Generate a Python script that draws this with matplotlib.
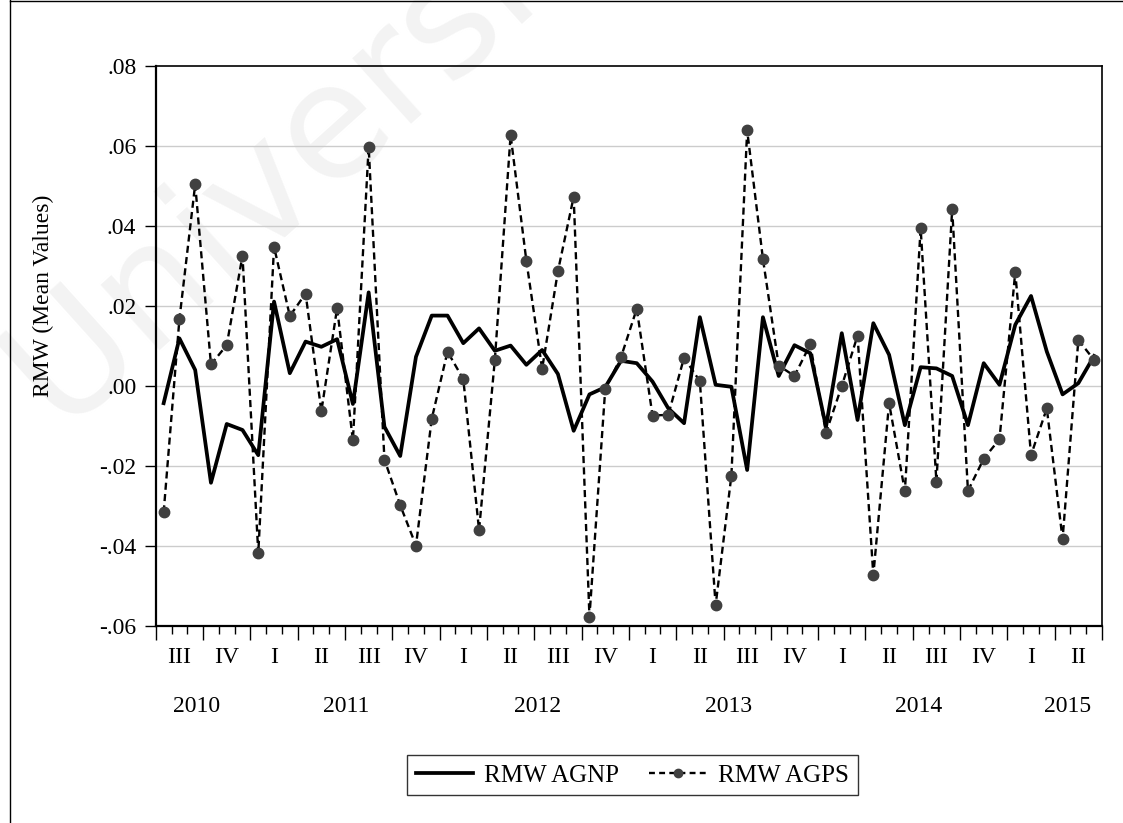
import numpy as np
import matplotlib.pyplot as plt
from matplotlib.lines import Line2D
from matplotlib import transforms

plt.rcParams['font.family'] = ['Liberation Serif', 'DejaVu Serif']

# monthly mean values, Jul 2010 - Jun 2015
agnp = [-0.0043, 0.0119, 0.0040, -0.0242, -0.0095, -0.0110, -0.0173, 0.0211, 0.0032, 0.0111,
        0.0098, 0.0117, -0.0045, 0.0234, -0.0102, -0.0175, 0.0073, 0.0176, 0.0176, 0.0107,
        0.0144, 0.0088, 0.0101, 0.0053, 0.0090, 0.0030, -0.0112, -0.0021, -0.0003, 0.0063,
        0.0057, 0.0011, -0.0056, -0.0093, 0.0172, 0.0003, -0.0002, -0.0210, 0.0172, 0.0025,
        0.0102, 0.0082, -0.0102, 0.0132, -0.0085, 0.0157, 0.0078, -0.0098, 0.0047, 0.0044,
        0.0025, -0.0098, 0.0057, 0.0003, 0.0153, 0.0225, 0.0086, -0.0021, 0.0007, 0.0075]
agps = [-0.0316, 0.0167, 0.0504, 0.0054, 0.0102, 0.0326, -0.0418, 0.0348, 0.0175, 0.0231,
        -0.0063, 0.0195, -0.0136, 0.0598, -0.0184, -0.0298, -0.0399, -0.0082, 0.0086, 0.0017,
        -0.0360, 0.0065, 0.0627, 0.0313, 0.0043, 0.0287, 0.0473, -0.0577, -0.0008, 0.0072,
        0.0193, -0.0074, -0.0072, 0.0071, 0.0012, -0.0548, -0.0224, 0.0639, 0.0318, 0.0051,
        0.0025, 0.0104, -0.0117, 0.0000, 0.0126, -0.0473, -0.0043, -0.0263, 0.0394, -0.0239,
        0.0442, -0.0262, -0.0182, -0.0133, 0.0285, -0.0173, -0.0056, -0.0383, 0.0115, 0.0065]
quarters = ['III', 'IV', 'I', 'II'] * 5
years = ['2010', '2011', '2012', '2013', '2014', '2015']
year_pos = [2.1, 11.6, 23.7, 35.8, 47.9, 57.3]

fs = 17
fig = plt.figure(figsize=(11.23, 8.23), dpi=100)
ax = fig.add_axes([0.1387, 0.2394, 0.9813 - 0.1387, 0.9198 - 0.2394])

# faint watermark, kept behind everything
fig.text(-0.02, 0.45, 'University', rotation=42, fontsize=115, color='#f3f3f3',
         family='DejaVu Sans', ha='left', va='bottom', zorder=-5)

x = np.arange(len(agnp))
ax.plot(x, agnp, color='black', lw=2.7, zorder=3)
ax.plot(x, agps, color='black', lw=1.7, ls=(0, (3, 1.8)), marker='o', markersize=7.5,
        markerfacecolor='#404040', markeredgecolor='#404040', zorder=4)

ax.set_xlim(-0.5, len(agnp) - 0.5)
ax.set_ylim(-0.06, 0.08)
ax.patch.set_alpha(0)

yt = np.arange(-0.06, 0.0801, 0.02)
ax.set_yticks(yt)
ax.set_yticklabels([('%.2f' % v).replace('0.', '.') for v in yt], fontsize=fs)
for v in yt[1:-1]:
    ax.axhline(v, color='#cccccc', lw=1.0, zorder=1)

ax.set_xticks(np.arange(-0.5, len(agnp), 3))
ax.set_xticks(np.arange(-0.5, len(agnp), 1), minor=True)
ax.set_xticklabels([])
ax.tick_params(axis='x', which='major', direction='out', length=10, width=1)
ax.tick_params(axis='x', which='minor', direction='out', length=5.5, width=1)
ax.tick_params(axis='y', direction='out', length=8, width=1, pad=6)

trans = transforms.blended_transform_factory(ax.transData, ax.transAxes)
for i, q in enumerate(quarters):
    ax.text(3 * i + 1, -0.057, q, transform=trans, ha='center', va='center', fontsize=fs)
for xp, yl in zip(year_pos, years):
    ax.text(xp, -0.143, yl, transform=trans, ha='center', va='center', fontsize=fs)

for s in ['left', 'bottom']:
    ax.spines[s].set_linewidth(1.6)
for s in ['top', 'right']:
    ax.spines[s].set_linewidth(1.2)

fig.text(43 / 1123, 1 - 296 / 823, 'RMW (Mean Values)', rotation=90, ha='center',
         va='center', fontsize=fs)

handles = [Line2D([], [], color='black', lw=2.7),
           Line2D([], [], color='black', lw=1.7, ls=(0, (2.5, 1.8)), marker='o', markersize=6,
                  markerfacecolor='#404040', markeredgecolor='#404040')]
leg = fig.legend(handles, ['RMW AGNP', 'RMW AGPS'], loc='center', ncol=2,
                 bbox_to_anchor=(0.563, 0.058), bbox_transform=fig.transFigure,
                 fontsize=18, frameon=True, fancybox=False, handlelength=2.3,
                 columnspacing=1.2, handletextpad=0.45, borderpad=0.35, borderaxespad=0)
leg.get_frame().set_edgecolor('black')
leg.get_frame().set_linewidth(1.0)

# outer frame
fig.add_artist(Line2D([10 / 1123, 10 / 1123], [0, 1], color='black', lw=1.0,
                      transform=fig.transFigure))
fig.add_artist(Line2D([10 / 1123, 1], [1 - 1 / 823, 1 - 1 / 823], color='black', lw=1.0,
                      transform=fig.transFigure))

fig.savefig('out.png', dpi=100)
